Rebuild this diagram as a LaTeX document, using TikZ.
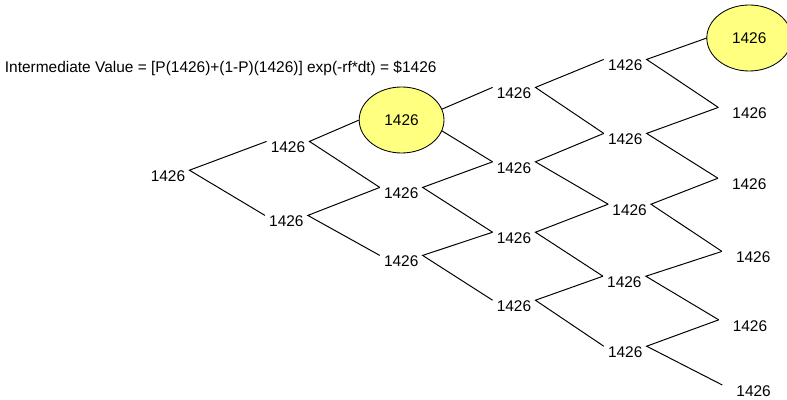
\documentclass[tikz,border=0pt]{standalone}
\usepackage{fontspec}
\setmainfont{Liberation Sans}
\usepackage{tikz}
\usetikzlibrary{shapes.geometric}
\definecolor{treeInk}{HTML}{000000}
\definecolor{treeHiFill}{HTML}{FFFF80}
\tikzset{
  tree/value/.style={font=\fontsize{11}{13}\selectfont, text=treeInk,
    inner xsep=3pt, inner ysep=0.5pt, outer sep=0pt},
  tree/leaf/.style={tree/value, inner xsep=10pt},
  tree/highlight/.style={tree/value, ellipse, draw=treeInk, line width=0.6pt,
    fill=treeHiFill, minimum width=2.12cm, minimum height=1.65cm},
  tree/branch/.style={draw=treeInk, line width=0.7pt},
  tree/formula/.style={font=\fontsize{11}{13}\selectfont, text=treeInk,
    inner sep=0pt, anchor=base west},
}

\begin{document}
\begin{tikzpicture}
\useasboundingbox (0,0) rectangle (19.675,-10);

\node[tree/formula] (formula) at (0.115,-1.825)
  {Intermediate Value = [P(1426)+(1-P)(1426)] exp(-rf*dt) = \$1426};

% step 0 and 1
\node[tree/value] (a) at (4.2,-4.41) {1426};
\node[tree/value] (b1) at (7.2,-3.69) {1426};
\node[tree/value] (b2) at (7.16,-5.54) {1426};

% step 2
\node[tree/highlight] (c1) at (10.04,-3.0) {1426};
\node[tree/value] (c2) at (10.03,-4.84) {1426};
\node[tree/value] (c3) at (10.03,-6.54) {1426};

% step 3
\node[tree/value] (d1) at (12.85,-2.34) {1426};
\node[tree/value] (d2) at (12.85,-4.2) {1426};
\node[tree/value] (d3) at (12.85,-5.96) {1426};
\node[tree/value] (d4) at (12.85,-7.66) {1426};

% step 4
\node[tree/value] (e1) at (15.63,-1.64) {1426};
\node[tree/value] (e2) at (15.63,-3.49) {1426};
\node[tree/value] (e3) at (15.74,-5.26) {1426};
\node[tree/value] (e4) at (15.61,-7.06) {1426};
\node[tree/value] (e5) at (15.63,-8.81) {1426};

% step 5 (terminal values)
\node[tree/highlight] (f1) at (18.73,-0.95) {1426};
\node[tree/leaf] (f2) at (18.74,-2.84) {1426};
\node[tree/leaf] (f3) at (18.73,-4.61) {1426};
\node[tree/leaf] (f4) at (18.83,-6.44) {1426};
\node[tree/leaf] (f5) at (18.75,-8.15) {1426};
\node[tree/leaf] (f6) at (18.84,-9.78) {1426};

% branches
\draw[tree/branch] (b1.north west) -- (a.north east) -- (b2.north west);
\draw[tree/branch] (c1.west) -- (b1.north east) -- (c2.north west);
\draw[tree/branch] (c2.north west) -- (b2.north east) -- (c3.north west);
\draw[tree/branch] (d1.north west) -- (c1.15);
\draw[tree/branch] (d2.north west) -- (c1.-15);
\draw[tree/branch] (d2.north west) -- (c2.north east) -- (d3.north west);
\draw[tree/branch] (d3.north west) -- (c3.north east) -- (d4.north west);
\draw[tree/branch] (e1.north west) -- (d1.north east) -- (e2.north west);
\draw[tree/branch] (e2.north west) -- (d2.north east) -- (e3.north west);
\draw[tree/branch] (e3.north west) -- (d3.north east) -- (e4.north west);
\draw[tree/branch] (e4.north west) -- (d4.north east) -- (e5.north west);
\draw[tree/branch] (f1.west) -- (e1.north east) -- (f2.north west);
\draw[tree/branch] (f2.north west) -- (e2.north east) -- (f3.north west);
\draw[tree/branch] (f3.north west) -- (e3.north east) -- (f4.north west);
\draw[tree/branch] (f4.north west) -- (e4.north east) -- (f5.north west);
\draw[tree/branch] (f5.north west) -- (e5.north east) -- (f6.north west);
\end{tikzpicture}
\end{document}
